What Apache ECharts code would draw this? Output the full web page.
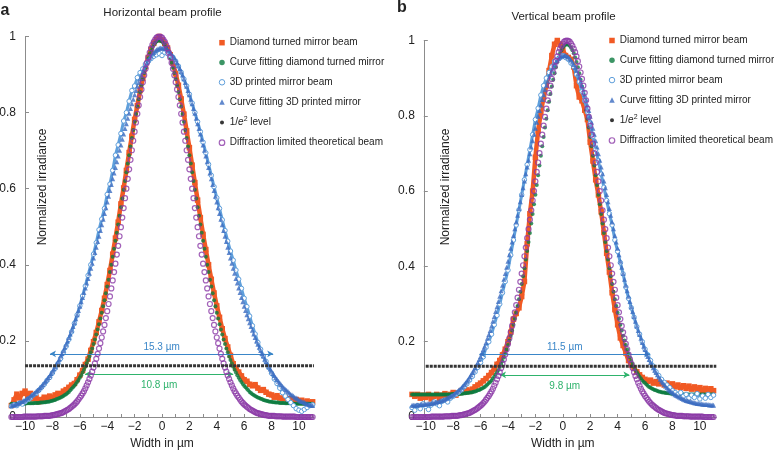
<!DOCTYPE html>
<html>
<head>
<meta charset="utf-8">
<script src="https://cdn.jsdelivr.net/npm/echarts@6/dist/echarts.min.js"></script>
<style>html,body{margin:0;padding:0;background:#fff;}#chart{width:774px;height:453px;}</style>
</head>
<body>
<div id="chart"></div>
<script>
// ---------- x grids ----------
const xsFine = [
-11,-10.9,-10.8,-10.7,-10.6,-10.5,-10.4,-10.3,-10.2,-10.1,
-10,-9.9,-9.8,-9.7,-9.6,-9.5,-9.4,-9.3,-9.2,-9.1,
-9,-8.9,-8.8,-8.7,-8.6,-8.5,-8.4,-8.3,-8.2,-8.1,
-8,-7.9,-7.8,-7.7,-7.6,-7.5,-7.4,-7.3,-7.2,-7.1,
-7,-6.9,-6.8,-6.7,-6.6,-6.5,-6.4,-6.3,-6.2,-6.1,
-6,-5.9,-5.8,-5.7,-5.6,-5.5,-5.4,-5.3,-5.2,-5.1,
-5,-4.9,-4.8,-4.7,-4.6,-4.5,-4.4,-4.3,-4.2,-4.1,
-4,-3.9,-3.8,-3.7,-3.6,-3.5,-3.4,-3.3,-3.2,-3.1,
-3,-2.9,-2.8,-2.7,-2.6,-2.5,-2.4,-2.3,-2.2,-2.1,
-2,-1.9,-1.8,-1.7,-1.6,-1.5,-1.4,-1.3,-1.2,-1.1,
-1,-0.9,-0.8,-0.7,-0.6,-0.5,-0.4,-0.3,-0.2,-0.1,
0,0.1,0.2,0.3,0.4,0.5,0.6,0.7,0.8,0.9,
1,1.1,1.2,1.3,1.4,1.5,1.6,1.7,1.8,1.9,
2,2.1,2.2,2.3,2.4,2.5,2.6,2.7,2.8,2.9,
3,3.1,3.2,3.3,3.4,3.5,3.6,3.7,3.8,3.9,
4,4.1,4.2,4.3,4.4,4.5,4.6,4.7,4.8,4.9,
5,5.1,5.2,5.3,5.4,5.5,5.6,5.7,5.8,5.9,
6,6.1,6.2,6.3,6.4,6.5,6.6,6.7,6.8,6.9,
7,7.1,7.2,7.3,7.4,7.5,7.6,7.7,7.8,7.9,
8,8.1,8.2,8.3,8.4,8.5,8.6,8.7,8.8,8.9,
9,9.1,9.2,9.3,9.4,9.5,9.6,9.7,9.8,9.9,
10,10.1,10.2,10.3,10.4,10.5,10.6,10.7,10.8,10.9,
11];
const xsCoarse = [
-11,-10.8,-10.6,-10.4,-10.2,-10,-9.8,-9.6,-9.4,-9.2,
-9,-8.8,-8.6,-8.4,-8.2,-8,-7.8,-7.6,-7.4,-7.2,
-7,-6.8,-6.6,-6.4,-6.2,-6,-5.8,-5.6,-5.4,-5.2,
-5,-4.8,-4.6,-4.4,-4.2,-4,-3.8,-3.6,-3.4,-3.2,
-3,-2.8,-2.6,-2.4,-2.2,-2,-1.8,-1.6,-1.4,-1.2,
-1,-0.8,-0.6,-0.4,-0.2,
0,0.2,0.4,0.6,0.8,1,1.2,1.4,1.6,1.8,
2,2.2,2.4,2.6,2.8,3,3.2,3.4,3.6,3.8,
4,4.2,4.4,4.6,4.8,5,5.2,5.4,5.6,5.8,
6,6.2,6.4,6.6,6.8,7,7.2,7.4,7.6,7.8,
8,8.2,8.4,8.6,8.8,9,9.2,9.4,9.6,9.8,
10,10.2,10.4,10.6,10.8,11];

// ---------- panel a (horizontal) ----------
const diamondA = [
0.030,0.045,0.060,0.050,0.062,0.068,0.055,0.062,0.048,0.052,
0.040,0.046,0.052,0.047,0.055,0.050,0.058,0.062,0.060,0.068,
0.072,0.078,0.084,0.088,0.098,0.110,0.122,0.138,0.152,0.175,
0.198,0.222,0.250,0.280,0.312,0.348,0.385,0.428,0.470,0.512,
0.560,0.602,0.648,0.695,0.738,0.782,0.818,0.858,0.890,0.922,
0.945,0.966,0.982,0.992,1.000,
0.990,0.982,0.970,0.952,0.930,0.902,0.872,0.836,0.796,0.752,
0.708,0.662,0.616,0.570,0.524,0.480,0.440,0.400,0.362,0.326,
0.292,0.262,0.232,0.206,0.184,0.162,0.140,0.128,0.118,0.108,
0.098,0.094,0.086,0.082,0.085,0.076,0.070,0.072,0.065,0.060,
0.058,0.052,0.056,0.050,0.048,0.052,0.045,0.048,0.042,0.046,
0.040,0.044,0.038,0.042,0.036,0.040];
const fitDiamondA = [
0.035,0.035,0.035,0.035,0.035,0.035,0.035,0.035,0.035,
0.035,0.035,0.036,0.036,0.036,0.036,0.036,0.036,0.037,0.037,
0.037,0.037,0.038,0.038,0.038,0.039,0.039,0.040,0.040,0.041,
0.042,0.043,0.044,0.045,0.047,0.048,0.050,0.051,0.053,0.055,
0.058,0.060,0.063,0.066,0.070,0.074,0.078,0.082,0.087,0.092,
0.097,0.103,0.110,0.117,0.124,0.132,0.141,0.150,0.159,0.170,
0.180,0.192,0.204,0.217,0.230,0.244,0.259,0.274,0.291,0.307,
0.325,0.343,0.361,0.381,0.400,0.421,0.442,0.463,0.484,0.506,
0.529,0.551,0.574,0.597,0.620,0.643,0.666,0.688,0.711,0.733,
0.754,0.776,0.796,0.816,0.835,0.854,0.871,0.888,0.904,0.918,
0.931,0.943,0.954,0.963,0.971,0.978,0.983,0.987,0.989,0.990,
0.989,0.987,0.983,0.978,0.971,0.963,0.954,0.943,0.931,
0.918,0.904,0.888,0.871,0.854,0.835,0.816,0.796,0.776,0.754,
0.733,0.711,0.688,0.666,0.643,0.620,0.597,0.574,0.551,0.529,
0.506,0.484,0.463,0.442,0.421,0.400,0.381,0.361,0.343,0.325,
0.307,0.291,0.274,0.259,0.244,0.230,0.217,0.204,0.192,0.180,
0.170,0.159,0.150,0.141,0.132,0.124,0.117,0.110,0.103,0.097,
0.092,0.087,0.082,0.078,0.074,0.070,0.066,0.063,0.060,0.058,
0.055,0.053,0.051,0.050,0.048,0.047,0.045,0.044,0.043,0.042,
0.041,0.040,0.040,0.039,0.039,0.038,0.038,0.038,0.037,0.037,
0.037,0.037,0.036,0.036,0.036,0.036,0.036,0.036,0.035,0.035,
0.035,0.035,0.035,0.035,0.035,0.035,0.035,0.035,0.035,0.035,0.035,0.035,0.035];
const printedA = [
0.028,0.032,0.030,0.036,0.034,0.040,0.046,0.050,0.058,0.062,
0.070,0.078,0.086,0.096,0.104,0.116,0.128,0.140,0.154,0.170,
0.186,0.204,0.224,0.246,0.268,0.292,0.318,0.344,0.372,0.400,
0.428,0.458,0.492,0.520,0.548,0.585,0.612,0.648,0.688,0.715,
0.745,0.778,0.800,0.830,0.858,0.870,0.892,0.905,0.915,0.928,
0.935,0.942,0.948,0.952,0.955,
0.950,0.958,0.955,0.950,0.945,0.935,0.922,0.906,0.888,0.870,
0.848,0.825,0.800,0.776,0.750,0.722,0.694,0.664,0.635,0.605,
0.576,0.548,0.518,0.490,0.462,0.436,0.412,0.386,0.362,0.338,
0.312,0.290,0.265,0.240,0.218,0.196,0.178,0.160,0.146,0.130,
0.115,0.100,0.088,0.076,0.064,0.055,0.046,0.038,0.030,0.022,
0.018,0.015,0.020,0.025,0.030,0.032];
const fitPrintedA = [
0.030,0.031,0.032,0.033,0.035,0.036,0.038,0.040,0.041,0.043,
0.045,0.048,0.050,0.052,0.055,0.058,0.060,0.063,0.067,0.070,
0.073,0.077,0.081,0.085,0.090,0.094,0.099,0.104,0.109,0.114,
0.120,0.126,0.132,0.139,0.145,0.152,0.160,0.167,0.175,0.183,
0.191,0.200,0.209,0.218,0.228,0.238,0.248,0.258,0.269,0.280,
0.291,0.303,0.314,0.327,0.339,0.352,0.364,0.378,0.391,0.404,
0.418,0.432,0.446,0.461,0.475,0.490,0.505,0.520,0.535,0.550,
0.565,0.580,0.595,0.611,0.626,0.641,0.656,0.671,0.686,0.701,
0.715,0.730,0.744,0.758,0.771,0.785,0.798,0.811,0.823,0.835,
0.847,0.858,0.869,0.879,0.889,0.899,0.908,0.916,0.924,0.931,
0.938,0.944,0.949,0.954,0.958,0.962,0.965,0.967,0.969,0.970,
0.970,
0.970,0.969,0.967,0.965,0.962,0.958,0.954,0.949,0.944,0.938,
0.931,0.924,0.916,0.908,0.899,0.889,0.879,0.869,0.858,0.847,
0.835,0.823,0.811,0.798,0.785,0.771,0.758,0.744,0.730,0.715,
0.701,0.686,0.671,0.656,0.641,0.626,0.611,0.595,0.580,0.565,
0.550,0.535,0.520,0.505,0.490,0.475,0.461,0.446,0.432,0.418,
0.404,0.391,0.378,0.364,0.352,0.339,0.327,0.314,0.303,0.291,
0.280,0.269,0.258,0.248,0.238,0.228,0.218,0.209,0.200,0.191,
0.183,0.175,0.167,0.160,0.152,0.145,0.139,0.132,0.126,0.120,
0.114,0.109,0.104,0.099,0.094,0.090,0.085,0.081,0.077,0.073,
0.070,0.067,0.063,0.060,0.058,0.055,0.052,0.050,0.048,0.045,
0.043,0.041,0.040,0.038,0.036,0.035,0.033,0.032,0.031,0.030];
const diffractionA = [
0,0,0,0,0,0,0,0,0,
0.001,0.001,0.001,0.001,0.001,0.001,0.001,0.001,0.001,0.001,
0.002,0.002,0.002,0.002,0.002,0.003,0.003,0.003,0.003,0.003,
0.004,0.005,0.005,0.006,0.007,0.008,0.009,0.010,0.011,0.013,
0.015,0.017,0.019,0.021,0.024,0.027,0.030,0.033,0.037,0.041,
0.046,0.051,0.056,0.062,0.068,0.075,0.083,0.091,0.100,0.109,
0.119,0.130,0.141,0.153,0.166,0.180,0.194,0.209,0.225,0.242,
0.260,0.278,0.297,0.317,0.338,0.359,0.381,0.403,0.427,0.450,
0.475,0.499,0.524,0.549,0.575,0.600,0.626,0.651,0.676,0.701,
0.726,0.750,0.774,0.797,0.819,0.841,0.861,0.880,0.898,0.915,
0.931,0.945,0.958,0.969,0.978,0.986,0.992,0.997,0.999,1.000,
0.999,0.997,0.992,0.986,0.978,0.969,0.958,0.945,0.931,
0.915,0.898,0.880,0.861,0.841,0.819,0.797,0.774,0.750,0.726,
0.701,0.676,0.651,0.626,0.600,0.575,0.549,0.524,0.499,0.475,
0.450,0.427,0.403,0.381,0.359,0.338,0.317,0.297,0.278,0.260,
0.242,0.225,0.209,0.194,0.180,0.166,0.153,0.141,0.130,0.119,
0.109,0.100,0.091,0.083,0.075,0.068,0.062,0.056,0.051,0.046,
0.041,0.037,0.033,0.030,0.027,0.024,0.021,0.019,0.017,0.015,
0.013,0.011,0.010,0.009,0.008,0.007,0.006,0.005,0.005,0.004,
0.003,0.003,0.003,0.003,0.003,0.002,0.002,0.002,0.002,0.002,
0.001,0.001,0.001,0.001,0.001,0.001,0.001,0.001,0.001,0.001,
0,0,0,0,0,0,0,0,0,0,0,0,0];

// ---------- panel b (vertical) ----------
const diamondB = [
0.060,0.055,0.060,0.050,0.058,0.052,0.060,0.048,0.055,0.060,
0.050,0.058,0.062,0.055,0.060,0.065,0.058,0.064,0.070,0.066,
0.072,0.068,0.074,0.080,0.085,0.090,0.096,0.102,0.110,0.118,
0.128,0.140,0.150,0.165,0.180,0.200,0.225,0.260,0.275,0.290,
0.320,0.360,0.460,0.540,0.600,0.690,0.760,0.810,0.850,0.880,
0.920,0.960,0.990,1.000,0.990,
0.975,0.960,0.955,0.950,0.930,0.880,0.850,0.840,0.815,0.790,
0.730,0.680,0.630,0.590,0.545,0.490,0.435,0.385,0.330,0.285,
0.245,0.210,0.190,0.170,0.150,0.138,0.130,0.120,0.112,0.105,
0.100,0.095,0.098,0.090,0.094,0.088,0.092,0.085,0.090,0.082,
0.088,0.080,0.085,0.078,0.083,0.076,0.082,0.074,0.080,0.072,
0.078,0.070,0.076,0.068,0.075,0.070];
const fitDiamondB = [
0.060,0.060,0.060,0.060,0.060,0.060,0.060,0.060,0.060,0.060,
0.060,0.060,0.060,0.060,0.060,0.060,0.060,0.060,0.060,0.060,
0.060,0.060,0.060,0.060,0.060,0.060,0.060,0.060,0.060,
0.061,0.061,0.061,0.061,0.061,
0.061,0.062,0.062,0.062,0.063,0.063,0.064,0.064,0.065,0.065,
0.066,0.067,0.068,0.069,0.071,0.072,0.074,0.076,0.078,0.080,
0.083,0.086,0.090,0.093,0.097,0.102,0.107,0.113,0.119,0.125,
0.133,0.141,0.149,0.158,0.168,0.179,0.191,0.203,0.216,0.230,
0.245,0.261,0.277,0.295,0.313,0.333,0.353,0.374,0.395,0.418,
0.441,0.465,0.489,0.514,0.539,0.565,0.590,0.616,0.642,0.668,
0.694,0.719,0.744,0.769,0.792,0.815,0.837,0.858,0.878,0.896,
0.913,0.929,0.943,0.955,0.966,0.974,0.981,0.986,0.989,0.990,
0.989,0.986,0.981,0.974,0.966,0.955,0.943,0.929,0.913,
0.896,0.878,0.858,0.837,0.815,0.792,0.769,0.744,0.719,0.694,
0.668,0.642,0.616,0.590,0.565,0.539,0.514,0.489,0.465,0.441,
0.418,0.395,0.374,0.353,0.333,0.313,0.295,0.277,0.261,0.245,
0.230,0.216,0.203,0.191,0.179,0.168,0.158,0.149,0.141,0.133,
0.125,0.119,0.113,0.107,0.102,0.097,0.093,0.090,0.086,0.083,
0.080,0.078,0.076,0.074,0.072,0.071,0.069,0.068,0.067,0.066,
0.065,0.065,0.064,0.064,0.063,0.063,0.062,0.062,0.062,0.061,
0.061,0.061,0.061,0.061,0.061,
0.060,0.060,0.060,0.060,0.060,0.060,0.060,0.060,0.060,0.060,
0.060,0.060,0.060,0.060,0.060,0.060,0.060,0.060,0.060,0.060,
0.060,0.060,0.060];
const printedB = [
0.025,0.018,0.030,0.022,0.035,0.028,0.020,0.032,0.040,0.035,
0.030,0.042,0.045,0.040,0.050,0.055,0.060,0.066,0.072,0.080,
0.088,0.098,0.108,0.120,0.132,0.145,0.160,0.185,0.200,0.220,
0.245,0.270,0.300,0.330,0.360,0.390,0.430,0.470,0.510,0.550,
0.590,0.630,0.670,0.710,0.750,0.790,0.820,0.855,0.880,0.900,
0.915,0.930,0.945,0.950,0.955,
0.960,0.955,0.950,0.940,0.930,0.910,0.890,0.865,0.840,0.810,
0.780,0.745,0.710,0.680,0.645,0.610,0.575,0.540,0.510,0.470,
0.440,0.410,0.380,0.345,0.315,0.290,0.265,0.240,0.220,0.200,
0.180,0.165,0.150,0.135,0.120,0.110,0.100,0.092,0.085,0.078,
0.070,0.065,0.060,0.065,0.055,0.060,0.050,0.058,0.052,0.062,
0.048,0.056,0.050,0.060,0.052,0.058];
const fitPrintedB = [
0.031,0.031,0.031,0.032,0.032,0.032,0.033,0.033,0.033,0.034,0.034,
0.035,0.035,0.036,0.036,0.037,0.038,0.039,0.040,0.041,0.042,
0.043,0.044,0.046,0.047,0.049,0.051,0.053,0.055,0.057,0.059,
0.062,0.065,0.068,0.071,0.074,0.078,0.082,0.086,0.091,0.095,
0.100,0.106,0.112,0.118,0.124,0.131,0.138,0.145,0.153,0.161,
0.170,0.179,0.188,0.198,0.209,0.219,0.230,0.242,0.254,0.267,
0.280,0.293,0.307,0.321,0.335,0.350,0.366,0.381,0.398,0.414,
0.431,0.448,0.465,0.482,0.500,0.518,0.536,0.554,0.572,0.591,
0.609,0.627,0.646,0.664,0.682,0.699,0.717,0.734,0.751,0.767,
0.783,0.799,0.814,0.829,0.843,0.856,0.869,0.881,0.892,0.903,
0.912,0.921,0.929,0.936,0.943,0.948,0.952,0.956,0.958,0.960,
0.960,
0.960,0.958,0.956,0.952,0.948,0.943,0.936,0.929,0.921,0.912,
0.903,0.892,0.881,0.869,0.856,0.843,0.829,0.814,0.799,0.783,
0.767,0.751,0.734,0.717,0.699,0.682,0.664,0.646,0.627,0.609,
0.591,0.572,0.554,0.536,0.518,0.500,0.482,0.465,0.448,0.431,
0.414,0.398,0.381,0.366,0.350,0.335,0.321,0.307,0.293,0.280,
0.267,0.254,0.242,0.230,0.219,0.209,0.198,0.188,0.179,0.170,
0.161,0.153,0.145,0.138,0.131,0.124,0.118,0.112,0.106,0.100,
0.095,0.091,0.086,0.082,0.078,0.074,0.071,0.068,0.065,0.062,
0.059,0.057,0.055,0.053,0.051,0.049,0.047,0.046,0.044,0.043,
0.042,0.041,0.040,0.039,0.038,0.037,0.036,0.036,0.035,0.035,
0.034,0.034,0.033,0.033,0.033,0.032,0.032,0.032,0.031];
const diffractionB = [
0,0,0,0,0,0,0,0,0,0,0,0,0,0,
0.001,0.001,0.001,0.001,0.001,0.001,0.001,0.001,0.001,0.001,
0.002,0.002,0.002,0.002,0.002,0.003,0.003,0.003,0.003,0.003,
0.004,0.005,0.005,0.006,0.007,0.008,0.009,0.010,0.011,0.013,
0.015,0.017,0.019,0.021,0.024,0.027,0.030,0.033,0.037,0.041,
0.046,0.051,0.056,0.062,0.068,0.075,0.083,0.091,0.100,0.109,
0.119,0.130,0.141,0.153,0.166,0.180,0.194,0.209,0.225,0.242,
0.260,0.278,0.297,0.317,0.338,0.359,0.381,0.403,0.427,0.450,
0.475,0.499,0.524,0.549,0.575,0.600,0.626,0.651,0.676,0.701,
0.726,0.750,0.774,0.797,0.819,0.841,0.861,0.880,0.898,0.915,
0.931,0.945,0.958,0.969,0.978,0.986,0.992,0.997,0.999,1.000,
0.999,0.997,0.992,0.986,0.978,0.969,0.958,0.945,0.931,
0.915,0.898,0.880,0.861,0.841,0.819,0.797,0.774,0.750,0.726,
0.701,0.676,0.651,0.626,0.600,0.575,0.549,0.524,0.499,0.475,
0.450,0.427,0.403,0.381,0.359,0.338,0.317,0.297,0.278,0.260,
0.242,0.225,0.209,0.194,0.180,0.166,0.153,0.141,0.130,0.119,
0.109,0.100,0.091,0.083,0.075,0.068,0.062,0.056,0.051,0.046,
0.041,0.037,0.033,0.030,0.027,0.024,0.021,0.019,0.017,0.015,
0.013,0.011,0.010,0.009,0.008,0.007,0.006,0.005,0.005,0.004,
0.003,0.003,0.003,0.003,0.003,0.002,0.002,0.002,0.002,0.002,
0.001,0.001,0.001,0.001,0.001,0.001,0.001,0.001,0.001,0.001,
0,0,0,0,0,0,0,0];

// ---------- levels, width markers, ticks, texts ----------
const levelValue = 0.135;
const levelSpanA = [-10, 11.1];
const levelSpanB = [-10, 11.2];
const widthLabelsA = ['15.3 \u00b5m', '10.8 \u00b5m'];
const widthLabelsB = ['11.5 \u00b5m', '9.8 \u00b5m'];
const blueArrowA = [-8.18, 8.12, 0.166];
const greenArrowA = [-5.62, 5.2, 0.113];
const blueArrowB = [-6.09, 6.37, 0.167];
const greenArrowB = [-4.58, 4.86, 0.112];
const xTickLabels = [-10, -8, -6, -4, -2, 0, 2, 4, 6, 8, 10];
const xTickMarks = [-10,-9,-8,-7,-6,-5,-4,-3,-2,-1,0,1,2,3,4,5,6,7,8,9,10,11];
const yTickLabels = [0, 0.2, 0.4, 0.6, 0.8, 1];
const panelTitles = ['Horizontal beam profile', 'Vertical beam profile'];
const panelLetters = ['a', 'b'];
const xAxisTitle = 'Width in \u00b5m';
const yAxisTitle = 'Normalized irradiance';
const names = {
  diamond: 'Diamond turned mirror beam',
  fitDiamond: 'Curve fitting diamond turned mirror',
  printed: '3D printed mirror beam',
  fitPrinted: 'Curve fitting 3D printed mirror',
  level: '1/e2 level',
  diffraction: 'Diffraction limited theoretical beam'
};

// ---------- styles ----------
const ORANGE = '#f15a24', GREEN = '#0b7b3e', LBLUE = '#5f9fdb', BLUE = '#3b6cc0',
      PURPLE = '#8b3aa6', LEVEL = '#363636', ARROW_BLUE = '#3a86c8', ARROW_GREEN = '#2fb36c',
      AXIS = '#8c8c8c', TXT = '#222222', FONT = '"Liberation Sans", Arial, sans-serif',
      CLEAR = 'rgba(255,255,255,0)';

function pairs(xs, ys) { return xs.map((x, i) => [x, ys[i]]); }
const fmtX = v => (v < 0 ? '\u2212' + (-v) : String(v));

function panelSeries(k, d) {
  const base = { xAxisIndex: k, yAxisIndex: k, animation: false, emphasis: { disabled: true }, silent: true, clip: false };
  const arrowLine = (arr, color, text, pos, dist) => [
    { coord: [arr[0], arr[2]], symbol: 'arrow', symbolSize: [5, 6],
      lineStyle: { color: color, width: 1, type: 'solid' },
      label: { show: true, position: pos, distance: dist, formatter: text, color: color, fontSize: 10, fontFamily: FONT } },
    { coord: [arr[1], arr[2]], symbol: 'arrow', symbolSize: [5, 6] }
  ];
  return [
    Object.assign({}, base, { name: names.diamond, type: 'line', z: 2, data: pairs(xsCoarse, d.diamond),
      symbol: 'rect', symbolSize: 5.5, showSymbol: true, lineStyle: { color: ORANGE, width: 4.5 }, itemStyle: { color: ORANGE } }),
    Object.assign({}, base, { name: names.fitDiamond, type: 'scatter', z: 3, data: pairs(xsFine, d.fitDiamond),
      symbol: 'circle', symbolSize: 4, itemStyle: { color: GREEN } }),
    Object.assign({}, base, { name: names.printed, type: 'line', z: 4, data: pairs(xsCoarse, d.printed),
      symbol: 'circle', symbolSize: 4.5, showSymbol: true, lineStyle: { color: LBLUE, width: 3 },
      itemStyle: { color: '#ffffff', borderColor: LBLUE, borderWidth: 1 } }),
    Object.assign({}, base, { name: names.fitPrinted, type: 'scatter', z: 5, data: pairs(xsFine, d.fitPrinted),
      symbol: 'triangle', symbolSize: 5, itemStyle: { color: BLUE } }),
    Object.assign({}, base, { name: names.diffraction, type: 'scatter', z: 6, data: pairs(xsFine, d.diffraction),
      symbol: 'circle', symbolSize: 5, itemStyle: { color: CLEAR, borderColor: PURPLE, borderWidth: 1.2 } }),
    Object.assign({}, base, { name: names.level, type: 'line', z: 7,
      data: [[d.levelSpan[0], levelValue], [d.levelSpan[1], levelValue]],
      symbol: 'none', lineStyle: { color: LEVEL, width: 3, type: [3, 1] }, itemStyle: { color: LEVEL },
      markLine: { silent: true, animation: false, emphasis: { disabled: true },
        data: [ arrowLine(d.blueArrow, ARROW_BLUE, d.labels[0], 'insideMiddleTop', 2),
                arrowLine(d.greenArrow, ARROW_GREEN, d.labels[1], 'insideMiddleBottom', 6) ] } })
  ];
}

const dataA = { diamond: diamondA, fitDiamond: fitDiamondA, printed: printedA, fitPrinted: fitPrintedA,
  diffraction: diffractionA, levelSpan: levelSpanA, blueArrow: blueArrowA, greenArrow: greenArrowA, labels: widthLabelsA };
const dataB = { diamond: diamondB, fitDiamond: fitDiamondB, printed: printedB, fitPrinted: fitPrintedB,
  diffraction: diffractionB, levelSpan: levelSpanB, blueArrow: blueArrowB, greenArrow: greenArrowB, labels: widthLabelsB };

function xAxisCfg(k, ext) {
  return { gridIndex: k, type: 'value', min: ext[0], max: ext[1],
    name: xAxisTitle, nameLocation: 'middle', nameGap: 21,
    nameTextStyle: { fontSize: 12, color: TXT, fontFamily: FONT },
    axisLine: { show: true, onZero: false, lineStyle: { color: AXIS, width: 1 } },
    axisTick: { show: true, inside: true, length: 3, customValues: xTickMarks, lineStyle: { color: AXIS } },
    axisLabel: { show: true, customValues: xTickLabels, formatter: fmtX, fontSize: 12, color: TXT, margin: 4, fontFamily: FONT },
    splitLine: { show: false } };
}
function yAxisCfg(k, off) {
  return { gridIndex: k, type: 'value', min: 0, max: 1, offset: off,
    axisLine: { show: true, onZero: false, lineStyle: { color: AXIS, width: 1 } },
    axisTick: { show: true, inside: true, length: 4, customValues: yTickLabels, lineStyle: { color: AXIS } },
    axisLabel: { show: true, customValues: yTickLabels, fontSize: 12, color: TXT, margin: 9, fontFamily: FONT },
    splitLine: { show: false } };
}
const legendData = [
  { name: names.diamond, icon: 'rect' },
  { name: names.fitDiamond, icon: 'circle' },
  { name: names.printed, icon: 'circle', itemStyle: { color: '#ffffff', borderColor: LBLUE, borderWidth: 1 } },
  { name: names.fitPrinted, icon: 'triangle' },
  { name: names.level, icon: 'circle', itemStyle: { color: LEVEL, borderColor: '#ffffff', borderWidth: 1.5 } },
  { name: names.diffraction, icon: 'circle', itemStyle: { color: '#ffffff', borderColor: PURPLE, borderWidth: 1.2 } }
];
function legendCfg(left, top) {
  return { data: legendData, orient: 'vertical', left: left, top: top, itemWidth: 5.5, itemHeight: 5.5, itemGap: 7.8,
    selectedMode: false, padding: 0, z: 10,
    formatter: n => (n === names.level ? '1/{i|e}{s|2} level' : n),
    textStyle: { fontSize: 10, color: TXT, lineHeight: 12, fontFamily: FONT,
      rich: { i: { fontStyle: 'italic', fontSize: 10, lineHeight: 12, fontFamily: FONT, color: TXT },
              s: { fontSize: 7, lineHeight: 12, padding: [0, 0, 6, 0], fontFamily: FONT, color: TXT } } } };
}
function txt(x, y, text, size, weight, rot) {
  return { type: 'text', x: x, y: y, rotation: rot || 0, silent: true,
    style: { text: text, fill: TXT, font: (weight || 'normal') + ' ' + size + 'px ' + FONT, align: 'center', verticalAlign: 'middle' } };
}

const option = {
  backgroundColor: '#ffffff',
  animation: false,
  textStyle: { fontFamily: FONT },
  grid: [
    { left: 10, top: 36.5, width: 304, height: 380.5, containLabel: false, outerBoundsMode: 'none' },
    { left: 409.3, top: 40.5, width: 307, height: 376.5, containLabel: false, outerBoundsMode: 'none' }
  ],
  xAxis: [xAxisCfg(0, [-11.1, 11.1]), xAxisCfg(1, [-11.2, 11.2])],
  yAxis: [yAxisCfg(0, -15), yAxisCfg(1, -14.5)],
  legend: [legendCfg(218.5, 36.7), legendCfg(608.5, 34.5)],
  graphic: [
    txt(5, 11, panelLetters[0], 16, 'bold'),
    txt(402, 8, panelLetters[1], 16, 'bold'),
    txt(162.5, 13, panelTitles[0], 11.5),
    txt(563.5, 16.5, panelTitles[1], 11.5),
    txt(42.5, 187, yAxisTitle, 12, 'normal', Math.PI / 2),
    txt(446, 187, yAxisTitle, 12, 'normal', Math.PI / 2)
  ],
  series: panelSeries(0, dataA).concat(panelSeries(1, dataB))
};
const chart = echarts.init(document.getElementById('chart'), null, { renderer: 'canvas' });
chart.setOption(option);
</script>
</body>
</html>
